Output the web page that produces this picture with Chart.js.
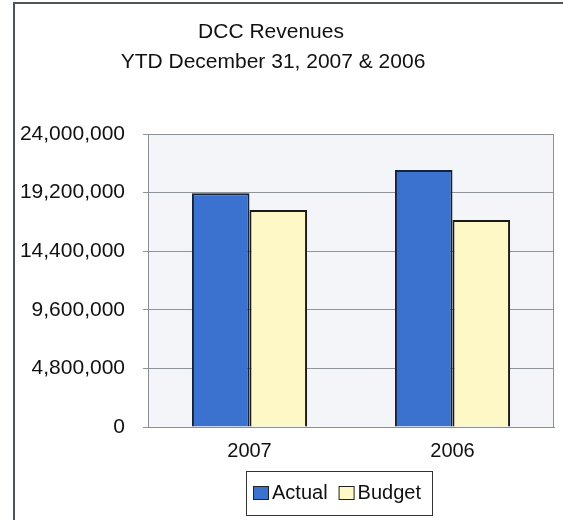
<!DOCTYPE html>
<html>
<head>
<meta charset="utf-8">
<script src="https://cdn.jsdelivr.net/npm/chart.js@4"></script>
<style>
  html, body { margin: 0; padding: 0; background: #fff; }
  #wrap { width: 563px; height: 520px; }
</style>
</head>
<body>
<div id="wrap"><canvas id="chart" width="563" height="520"></canvas></div>
<script>
const years = ['2007', '2006'];
const actual = [19140000, 21050000];
const budget = [17770000, 16960000];
const yTicks = [0, 4800000, 9600000, 14400000, 19200000, 24000000];
const titleLines = ['DCC Revenues', 'YTD December 31, 2007 & 2006'];

const FONT = 'Arial, "Liberation Sans", sans-serif';

// frame, plot background and border, title, boxed legend
const decor = {
  id: 'decor',
  beforeDraw(chart) {
    const { ctx, chartArea: a } = chart;
    ctx.save();
    ctx.fillStyle = '#f3f5f8';
    ctx.fillRect(a.left, a.top, a.right - a.left, a.bottom - a.top);
    ctx.restore();
  },
  afterDatasetsDraw(chart) {
    const { ctx, chartArea: a } = chart;
    ctx.save();
    ctx.strokeStyle = '#8a8f96';
    ctx.lineWidth = 1;
    ctx.strokeRect(a.left + 0.5, a.top + 0.5, a.right - a.left - 1, a.bottom - a.top);
    ctx.restore();
  },
  afterDraw(chart) {
    const { ctx } = chart;
    ctx.save();
    // outer frame (left and top edges visible)
    ctx.strokeStyle = '#4d555c';
    ctx.lineWidth = 2;
    ctx.beginPath();
    ctx.moveTo(14, 520);
    ctx.lineTo(14, 3);
    ctx.lineTo(563, 3);
    ctx.stroke();

    // title
    ctx.fillStyle = '#111';
    ctx.textAlign = 'center';
    ctx.textBaseline = 'middle';
    ctx.font = '21px ' + FONT;
    ctx.fillText(titleLines[0], 271, 32);
    ctx.fillText(titleLines[1], 273, 62);

    // legend
    const box = { x: 246, y: 471, w: 186, h: 44 };
    ctx.strokeStyle = '#333';
    ctx.lineWidth = 1;
    ctx.strokeRect(box.x + 0.5, box.y + 0.5, box.w, box.h);
    ctx.font = '20px ' + FONT;
    ctx.textAlign = 'left';
    let x = box.x + 7;
    const cy = box.y + 22;
    chart.data.datasets.forEach(ds => {
      ctx.fillStyle = ds.backgroundColor;
      ctx.fillRect(x, cy - 7, 16, 14);
      ctx.strokeStyle = '#222';
      ctx.strokeRect(x + 0.5, cy - 6.5, 15, 13);
      x += 19;
      ctx.fillStyle = '#111';
      ctx.fillText(ds.label, x, cy);
      x += ctx.measureText(ds.label).width + 11;
    });
    ctx.restore();
  }
};

new Chart(document.getElementById('chart').getContext('2d'), {
  type: 'bar',
  data: {
    labels: years,
    datasets: [
      {
        label: 'Actual',
        data: actual,
        backgroundColor: '#3b71cf',
        borderColor: '#16223a',
        borderWidth: 2,
        categoryPercentage: 0.567,
        barPercentage: 1.0,
      },
      {
        label: 'Budget',
        data: budget,
        backgroundColor: '#fdf8c6',
        borderColor: '#1a1a1a',
        borderWidth: 2,
        categoryPercentage: 0.567,
        barPercentage: 1.0,
      },
    ],
  },
  options: {
    responsive: false,
    animation: false,
    layout: { padding: { top: 134, right: 9, bottom: 0, left: 0 } },
    plugins: {
      legend: { display: false },
      title: { display: false },
      tooltip: { enabled: false },
    },
    scales: {
      x: {
        grid: { display: false, drawTicks: false },
        border: { display: true, color: '#8a8f96' },
        ticks: { color: '#111', font: { family: FONT, size: 20 }, padding: 12 },
        afterFit(scale) { scale.height = 93; },
      },
      y: {
        min: 0,
        max: 24000000,
        afterBuildTicks(scale) { scale.ticks = yTicks.map(v => ({ value: v })); },
        grid: { color: '#8f949a', lineWidth: 1, drawTicks: true, tickLength: 5 },
        border: { display: true, color: '#8a8f96' },
        ticks: {
          color: '#111',
          padding: 18,
          font: { family: FONT, size: 21 },
          callback: v => v.toLocaleString('en-US'),
        },
        afterFit(scale) { scale.width = 148; },
      },
    },
  },
  plugins: [decor],
});
</script>
</body>
</html>
